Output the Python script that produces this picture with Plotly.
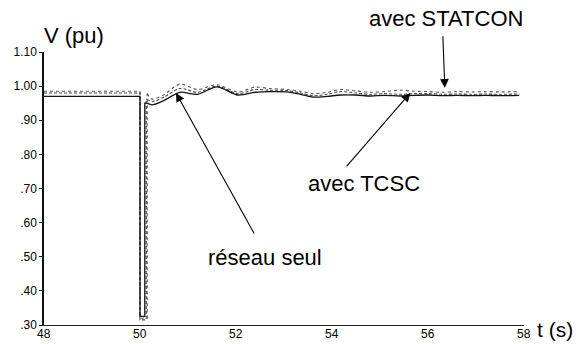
import plotly.graph_objects as go

# ---- data ----
t_post = [50.15, 50.25, 50.5, 50.83, 51.2, 51.6, 52.04, 52.4, 52.7, 53.06, 53.35, 53.6,
          53.9, 54.17, 54.5, 54.8, 55.1, 55.42, 55.7, 56.0, 56.3, 56.6, 56.9, 57.2, 57.5, 57.9]
v_seul = [0.950, 0.945, 0.958, 0.982, 0.976, 0.998, 0.974, 0.982, 0.984, 0.983, 0.976, 0.968,
          0.970, 0.974, 0.974, 0.971, 0.973, 0.971, 0.973, 0.974, 0.972, 0.973, 0.972, 0.973, 0.972, 0.973]
v_tcsc = [0.962, 0.955, 0.968, 0.993, 0.982, 1.000, 0.978, 0.990, 0.988, 0.987, 0.980, 0.972,
          0.976, 0.984, 0.980, 0.976, 0.978, 0.976, 0.978, 0.978, 0.976, 0.977, 0.976, 0.977, 0.976, 0.977]
v_statcon = [0.978, 0.962, 0.975, 1.006, 0.990, 1.004, 0.983, 0.997, 0.993, 0.990, 0.985, 0.978,
             0.982, 0.990, 0.986, 0.982, 0.984, 0.988, 0.985, 0.984, 0.982, 0.984, 0.983, 0.984, 0.983, 0.984]

t_start = 48.0
t_fault = 50.0
t_clear = {"seul": 50.10, "tcsc": 50.13, "statcon": 50.15}
v_pre = {"seul": 0.970, "tcsc": 0.980, "statcon": 0.985}
v_fault = {"seul": 0.325, "tcsc": 0.315, "statcon": 0.320}

y_tickvals = [0.30, 0.40, 0.50, 0.60, 0.70, 0.80, 0.90, 1.00, 1.10]
y_ticktext = [".30", ".40", ".50", ".60", ".70", ".80", ".90", "1.00", "1.10"]
x_tickvals = [48, 50, 52, 54, 56, 58]
x_ticktext = ["48", "50", "52", "54", "56", "58"]


fig = go.Figure()
styles = {
    "seul": dict(color="#111111", width=1.3, dash="solid"),
    "tcsc": dict(color="#444444", width=1.1, dash="3px,2px"),
    "statcon": dict(color="#555555", width=1.1, dash="dot"),
}
for key, post in [("statcon", v_statcon), ("tcsc", v_tcsc), ("seul", v_seul)]:
    # pre-fault + fault (straight segments)
    xs = [t_start, t_fault, t_fault, t_clear[key], t_clear[key], t_post[0]]
    ys = [v_pre[key], v_pre[key], v_fault[key], v_fault[key], post[0], post[0]]
    fig.add_trace(go.Scatter(x=xs, y=ys, mode="lines", line=styles[key],
                             showlegend=False, hoverinfo="skip"))
    # post-fault oscillation (smooth)
    fig.add_trace(go.Scatter(x=t_post, y=post, mode="lines",
                             line=dict(**styles[key], shape="spline", smoothing=0.8),
                             showlegend=False, hoverinfo="skip"))

FONT = "Liberation Sans, Arial, Helvetica, sans-serif"

W, H = 578, 344
L, R, T, B = 44, 54, 52, 19
pw, ph = W - L - R, H - T - B


def px2paper(px, py):
    return (px - L) / pw, (H - B - py) / ph


annos = []
for txt, (px, py), anc, sz in [("V (pu)", (42, 35), "left", 22),
                               ("t (s)", (535, 329), "left", 21),
                               ("avec STATCON", (446, 19), "center", 22),
                               ("avec TCSC", (364, 183), "center", 22),
                               ("réseau seul", (265, 257), "center", 22)]:
    xp, yp = px2paper(px, py)
    annos.append(dict(x=xp, y=yp, xref="paper", yref="paper", text=txt, showarrow=False,
                      xanchor=anc, yanchor="middle", font=dict(family=FONT, size=sz, color="black")))

# x tick labels, drawn just under the axis line at each tick value
for tv, tt in zip(x_tickvals, x_ticktext):
    annos.append(dict(x=tv, y=0, xref="x", yref="paper", text=tt, showarrow=False,
                      xanchor="center", yanchor="top", yshift=0,
                      font=dict(family=FONT, size=12, color="black")))

# arrows: tip in data coords, tail offset in pixels
for (tx, ty), (ax, ay) in [((56.35, 0.995), (-2, -53)),
                           ((55.63, 0.980), (-65, 75)),
                           ((50.75, 0.980), (79, 142))]:
    annos.append(dict(x=tx, y=ty, xref="x", yref="y", text="", showarrow=True,
                      ax=ax, ay=ay, arrowhead=2, arrowsize=1.6, arrowwidth=1.1,
                      arrowcolor="black"))

fig.update_layout(
    width=W, height=H,
    margin=dict(l=L, r=R, t=T, b=B, pad=0),
    paper_bgcolor="white", plot_bgcolor="white",
    font=dict(family=FONT, size=12, color="black"),
    annotations=annos,
    xaxis=dict(range=[48, 58], tickvals=x_tickvals, showticklabels=False,
               showgrid=False, zeroline=False, showline=True, linecolor="#222",
               linewidth=1, ticks="", automargin=False),
    yaxis=dict(range=[0.30, 1.10], tickvals=y_tickvals, ticktext=y_ticktext,
               showgrid=False, zeroline=False, showline=True, linecolor="#111",
               linewidth=1.5, ticks="outside", ticklen=3, tickcolor="#111",
               tickfont=dict(size=12), automargin=False),
)

fig.write_html(
    "out.html",
    config={"displayModeBar": False},
    post_script="document.body.style.margin='0';document.body.style.overflow='hidden';"
                "document.documentElement.style.overflow='hidden';",
)
